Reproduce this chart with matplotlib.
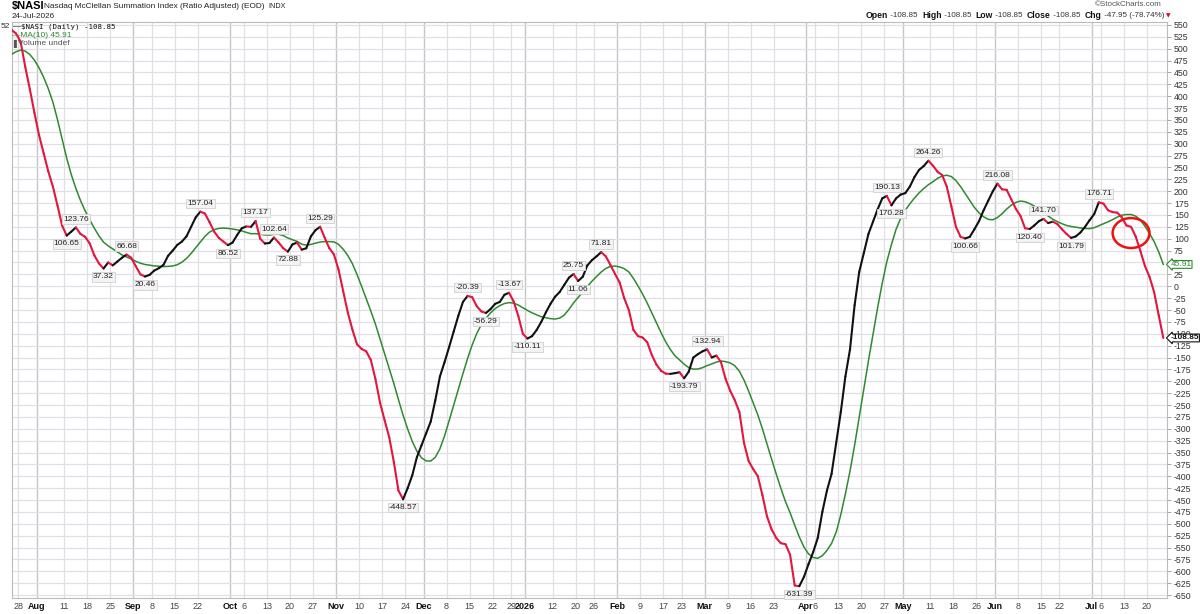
import numpy as np
import pandas as pd
import matplotlib
matplotlib.use("Agg")
import matplotlib.pyplot as plt
from matplotlib.collections import LineCollection
from matplotlib.patches import Ellipse

# trading calendar of the window
first_day = "2025-07-25"
last_day = "2026-07-24"
holidays = ["2025-09-01", "2025-11-27", "2025-12-25", "2026-01-01", "2026-01-19",
            "2026-02-16", "2026-04-03", "2026-05-25", "2026-06-19", "2026-07-03"]

# nine sessions before the window (only used to seed the MA(10))
nasi_prior = [475, 480, 484, 486, 484, 480, 478, 482, 491]

# $NASI daily close, 25-Jul-2025 .. 24-Jul-2026
nasi = [
    540, 532, 515, 462, 415, 365, 318, 280, 242, 210,
    170, 128, 106.65, 115, 123.76, 110, 104, 90, 65, 48,
    37.32, 50, 44, 52, 60, 66.68, 60, 42, 25, 20.46,
    24, 33, 38, 45, 64, 75, 87, 94, 105, 125,
    145, 157.04, 153, 135, 115, 102, 94, 86.52, 92, 108,
    122, 126, 125, 137.17, 100, 90, 91, 102.64, 92, 80,
    72.88, 88, 92, 77, 80, 105, 118, 125.29, 102, 80,
    67, 35, -10, -55, -91, -122, -132, -137, -155, -195,
    -245, -282, -318, -370, -430, -448.57, -425, -398, -360, -335,
    -310, -285, -240, -190, -160, -128, -95, -62, -33, -20.39,
    -23, -42, -53, -56.29, -48, -37, -33, -18, -13.67, -32,
    -62, -100, -110.11, -105, -92, -75, -55, -37, -22, -12,
    3, 18, 25.75, 11.06, 20, 44, 55, 63, 71.81, 63,
    45, 26, 8, -25, -50, -92, -105, -108, -118, -145,
    -165, -178, -184, -184.5, -183, -181, -193.79, -180, -150, -143,
    -137, -132.94, -150, -146, -160, -195, -220, -240, -265, -330,
    -368, -385, -400, -440, -485, -512, -530, -541, -543, -565,
    -630, -631.39, -612, -585, -560, -530, -475, -430, -395, -330,
    -265, -190, -133, -40, 30, 70, 110, 136, 162, 185,
    190.13, 170.28, 185, 193, 196, 210, 230, 245, 253, 264.26,
    254, 241, 234, 210, 168, 125, 104, 100.66, 104, 120,
    137, 160, 180, 200, 216.08, 204, 203, 183, 163, 148,
    122, 120.40, 128, 137, 141.70, 133, 136, 131, 120, 110,
    101.79, 105, 113, 125, 139, 152, 176.71, 174, 160, 156,
    155, 145, 128, 125, 105, 75, 43, 20, -12.15, -60.9,
    -108.85,
]

# swing points that carry a value tag
label_values = [123.76, 106.65, 37.32, 66.68, 20.46, 157.04, 86.52, 137.17, 102.64,
                72.88, 125.29, -448.57, -20.39, -56.29, -13.67, -110.11, 25.75, 11.06,
                71.81, -193.79, -132.94, -631.39, 190.13, 170.28, 264.26, 100.66,
                216.08, 120.40, 141.70, 101.79, 176.71]

tick_dates = ["2025-07-28", "2025-08-01", "2025-08-11", "2025-08-18", "2025-08-25",
              "2025-09-02", "2025-09-08", "2025-09-15", "2025-09-22", "2025-10-01",
              "2025-10-06", "2025-10-13", "2025-10-20", "2025-10-27", "2025-11-03",
              "2025-11-10", "2025-11-17", "2025-11-24", "2025-12-01", "2025-12-08",
              "2025-12-15", "2025-12-22", "2025-12-29", "2026-01-02", "2026-01-12",
              "2026-01-20", "2026-01-26", "2026-02-02", "2026-02-09", "2026-02-17",
              "2026-02-23", "2026-03-02", "2026-03-09", "2026-03-16", "2026-03-23",
              "2026-04-01", "2026-04-06", "2026-04-13", "2026-04-20", "2026-04-27",
              "2026-05-01", "2026-05-11", "2026-05-18", "2026-05-26", "2026-06-01",
              "2026-06-08", "2026-06-15", "2026-06-22", "2026-07-01", "2026-07-06",
              "2026-07-13", "2026-07-20"]

highlight_date = "2026-07-15"
highlight_value = 112

RED = "#e2163e"
GREEN = "#2f8a2f"
plt.rcParams["font.family"] = ["Liberation Sans", "DejaVu Sans"]
plt.rcParams["axes.unicode_minus"] = False


def px(x, y):
    # pixel position (from top-left) -> figure fraction
    return x / 1200, 1 - y / 614


def main():
    days = pd.bdate_range(first_day, last_day)
    days = days[~days.isin(pd.to_datetime(holidays))]
    y = np.array(nasi, dtype=float)
    x = np.arange(len(y))
    ma = pd.Series(nasi_prior + nasi).rolling(10).mean().to_numpy()[len(nasi_prior):]

    fig = plt.figure(figsize=(12, 6.14), dpi=100)
    ax = fig.add_axes([12 / 1200, 16 / 614, 1155 / 1200, 576 / 614])
    ax.set_xlim(0.13, 250.8)
    ax.set_ylim(-656.3, 556.3)

    # grid
    yt = np.arange(-650, 551, 25)
    ax.set_yticks(yt, [str(v) if v != 50 else "" for v in yt])  # 50 sits under the MA tag
    ax.grid(axis="y", color="#e2dee8", lw=0.9)
    ax.set_axisbelow(True)
    tick_pos = [days.get_loc(pd.Timestamp(d)) + 0.45 for d in tick_dates]
    tick_txt = []
    for d, p in zip(tick_dates, tick_pos):
        t = pd.Timestamp(d)
        i = int(p)
        month_start = i == 0 or days[i - 1].month != t.month
        if month_start:
            tick_txt.append(str(t.year) if t.month == 1 else t.strftime("%b"))
            ax.axvline(p, color="#c6c6c6", lw=1.0, zorder=0)
        else:
            tick_txt.append(str(t.day))
            ax.axvline(p, color="#e0e0e0", lw=0.9, zorder=0)
    ax.set_xticks(tick_pos, tick_txt)
    for lab, txt in zip(ax.get_xticklabels(), tick_txt):
        if not txt.isdigit() or len(txt) == 4:
            lab.set_fontweight("bold")
            lab.set_color("#111111")
        else:
            lab.set_color("#444444")
    ax.tick_params(axis="x", length=0, pad=3, labelsize=6.5)
    ax.yaxis.tick_right()
    ax.tick_params(axis="y", length=3, width=0.6, color="#999999", pad=2,
                   labelsize=6.3, labelcolor="#333333")
    for s in ax.spines.values():
        s.set_color("#bbbbbb")
        s.set_linewidth(0.8)

    # MA(10)
    ax.plot(x, ma, color=GREEN, lw=1.1, zorder=3)

    # direction-coloured close line
    pts = np.column_stack([x, y]).reshape(-1, 1, 2)
    segs = np.concatenate([pts[:-1], pts[1:]], axis=1)
    cols = [RED if d < 0 else "#111111" for d in np.diff(y)]
    ax.add_collection(LineCollection(segs, colors=cols, lw=1.5, zorder=4,
                                     capstyle="round", joinstyle="round"))

    # swing labels
    for v in label_values:
        i = int(np.argmin(np.abs(y - v)))
        peak = y[i] > y[i - 1]
        ax.annotate(f"{v:.2f}", (i, v), xytext=(0, 3.5 if peak else -3.5),
                    textcoords="offset points", ha="center",
                    va="bottom" if peak else "top", fontsize=6, color="#222222",
                    zorder=6,
                    bbox=dict(boxstyle="square,pad=0.15", fc="#f3f3f3",
                              ec="#d0d0d0", lw=0.6))

    # highlight ellipse
    hx = days.get_loc(pd.Timestamp(highlight_date))
    ax.add_patch(Ellipse((hx, highlight_value), 8.0, 63, fill=False,
                         ec="#ee1111", lw=1.8, zorder=7))

    # right-edge value tags
    ax.annotate(f"{ma[-1]:.2f}", (1, ma[-1]), xycoords=("axes fraction", "data"),
                xytext=(2.5, 0), textcoords="offset points", va="center", ha="left",
                fontsize=6, color=GREEN, annotation_clip=False, zorder=8,
                bbox=dict(boxstyle="larrow,pad=0.05", fc="white", ec=GREEN, lw=0.8))
    ax.annotate(f"{y[-1]:.2f}", (1, y[-1]), xycoords=("axes fraction", "data"),
                xytext=(2.5, 0), textcoords="offset points", va="center", ha="left",
                fontsize=6, color="#111111", fontweight="bold",
                annotation_clip=False, zorder=8,
                bbox=dict(boxstyle="larrow,pad=0.05", fc="white", ec="#111111", lw=0.8))

    # legend block inside the plot
    fig.text(*px(13, 27), "\u2014", fontsize=6, color="#111111", va="center")
    fig.text(*px(21, 27), f"$NASI (Daily) {y[-1]:.2f}", fontsize=5.4,
             family="DejaVu Sans Mono", color="#111111", va="center")
    fig.text(*px(12, 35.5), f"\u2014MA(10) {ma[-1]:.2f}", fontsize=6,
             color=GREEN, va="center")
    fig.text(*px(13, 43.5), "\u258c", fontsize=5.5, color="#555555", va="center",
             family=["DejaVu Sans"])
    fig.text(*px(18, 43.5), "Volume undef", fontsize=6, color="#555555", va="center")
    fig.text(*px(1, 27), "52", fontsize=6, color="#333333", va="center")

    # header
    fig.text(*px(12, 6.5), "$NASI", fontsize=8, fontweight="bold", va="center")
    fig.text(*px(44, 6.5), "Nasdaq McClellan Summation Index (Ratio Adjusted) (EOD)",
             fontsize=5.95, va="center", color="#222222")
    fig.text(*px(268, 6.5), "INDX", fontsize=5.2, va="center", color="#222222")
    fig.text(*px(12, 16.5), "24-Jul-2026", fontsize=5.9, va="center", color="#222222")
    fig.text(*px(1162, 4.5), "\u00a9StockCharts.com", fontsize=5.8, va="center",
             ha="right", color="#555555")

    chg = y[-1] - y[-2]
    pct = chg / abs(y[-2]) * 100
    pieces = [("Open", True), (f" {y[-1]:.2f}  ", False), ("High", True),
              (f" {y[-1]:.2f}  ", False), ("Low", True), (f" {y[-1]:.2f}  ", False),
              ("Close", True), (f" {y[-1]:.2f}  ", False), ("Chg", True),
              (f" {chg:.2f} ({pct:.2f}%)", False)]
    fig.canvas.draw()
    r = fig.canvas.get_renderer()
    texts = []
    width = 0
    for txt, bold in pieces:
        t = fig.text(0, 1 - 15.5 / 614, txt, fontsize=6.2 if bold else 5.8,
                     fontweight="bold" if bold else "normal", va="center",
                     ha="left", color="#111111" if bold else "#333333")
        texts.append(t)
        width += t.get_window_extent(r).width
    xpos = 1164 - width
    for t in texts:
        t.set_x(xpos / 1200)
        xpos += t.get_window_extent(r).width
    fig.text((xpos + 2) / 1200, 1 - 15.5 / 614, "\u25bc", fontsize=4.2,
             color="#cc1122", va="center", ha="left", family=["DejaVu Sans"])

    fig.savefig("out.png", dpi=100)


if __name__ == "__main__":
    main()
